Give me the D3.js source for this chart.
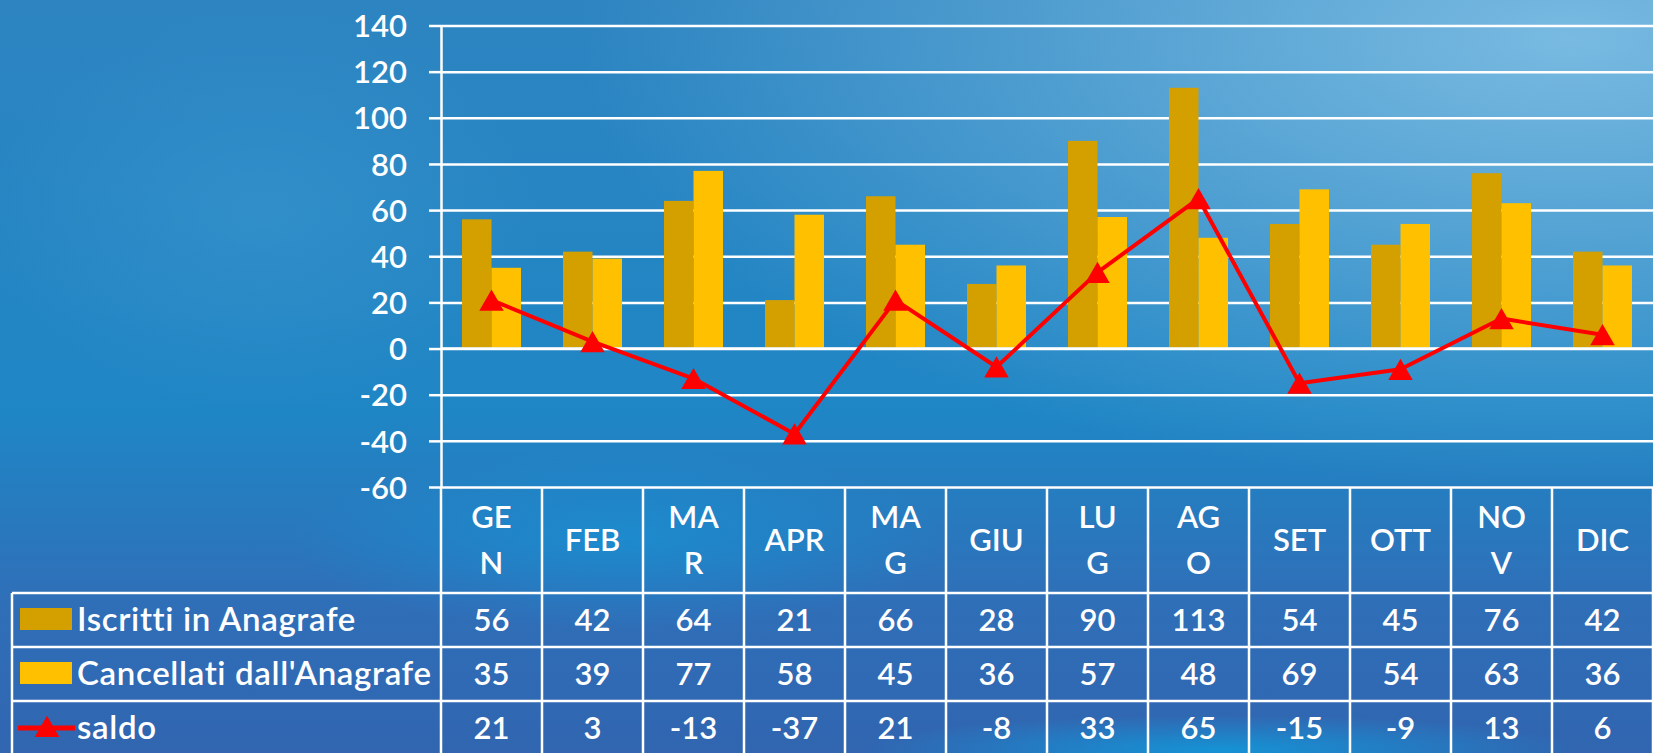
<!DOCTYPE html>
<html>
<head>
<meta charset="utf-8">
<script src="https://cdn.jsdelivr.net/npm/d3@7"></script>
<style>
    html, body { margin: 0; padding: 0; overflow: hidden; background: #2a84c2; }
    text { font-family: Lato, "Open Sans", sans-serif; fill: #fff; font-size: 31px; font-weight: 600; }
</style>
</head>
<body>
<div id="chart"></div>
<script>

// data
var months = ["GEN", "FEB", "MAR", "APR", "MAG", "GIU", "LUG", "AGO", "SET", "OTT", "NOV", "DIC"];
var monthLines = [["GE", "N"], ["FEB"], ["MA", "R"], ["APR"], ["MA", "G"], ["GIU"],
                  ["LU", "G"], ["AG", "O"], ["SET"], ["OTT"], ["NO", "V"], ["DIC"]];
var iscritti = [56, 42, 64, 21, 66, 28, 90, 113, 54, 45, 76, 42];
var cancellati = [35, 39, 77, 58, 45, 36, 57, 48, 69, 54, 63, 36];
var saldo = [21, 3, -13, -37, 21, -8, 33, 65, -15, -9, 13, 6];
var seriesNames = ["Iscritti in Anagrafe", "Cancellati dall'Anagrafe", "saldo"];
var yTicks = [-60, -40, -20, 0, 20, 40, 60, 80, 100, 120, 140];

var barColors = ["#d4a000", "#ffc000"];
var lineColor = "#ff0000";

var W = 1653, H = 753;
var plot = { left: 441, right: 1653, top: 25.5, bottom: 487 };
var tableLeft = 12, rowH = 54, headerBottom = 593;

var svg = d3.select("#chart")
    .append("svg")
    .attr("width", W)
    .attr("height", H);

// background: blue gradients
var defs = svg.append("defs");
var base = defs.append("linearGradient").attr("id", "bgBase")
    .attr("x1", 0).attr("y1", 0).attr("x2", 0).attr("y2", 1);
base.append("stop").attr("offset", "0%").attr("stop-color", "#2d84c0");
base.append("stop").attr("offset", "55%").attr("stop-color", "#1f86c5");
base.append("stop").attr("offset", "80%").attr("stop-color", "#2f6fb8");
base.append("stop").attr("offset", "100%").attr("stop-color", "#3165b0");

var light = defs.append("radialGradient").attr("id", "bgLight")
    .attr("cx", 0.95).attr("cy", 0.05).attr("r", 0.6);
light.append("stop").attr("offset", "0%").attr("stop-color", "#7cbde3").attr("stop-opacity", 0.95);
light.append("stop").attr("offset", "100%").attr("stop-color", "#7cbde3").attr("stop-opacity", 0);

var glow = defs.append("radialGradient").attr("id", "bgGlow")
    .attr("cx", 0.5).attr("cy", 0.5).attr("r", 0.5);
glow.append("stop").attr("offset", "0%").attr("stop-color", "#3a96ce").attr("stop-opacity", 0.55);
glow.append("stop").attr("offset", "100%").attr("stop-color", "#3a96ce").attr("stop-opacity", 0);

var cyan = defs.append("radialGradient").attr("id", "bgCyan")
    .attr("cx", 0.5).attr("cy", 0.5).attr("r", 0.5);
cyan.append("stop").attr("offset", "0%").attr("stop-color", "#0aa6e4").attr("stop-opacity", 0.7);
cyan.append("stop").attr("offset", "100%").attr("stop-color", "#0aa6e4").attr("stop-opacity", 0);

svg.append("rect").attr("width", W).attr("height", H).attr("fill", "url(#bgBase)");
svg.append("ellipse").attr("cx", 260).attr("cy", 210).attr("rx", 280).attr("ry", 200).attr("fill", "url(#bgGlow)");
svg.append("ellipse").attr("cx", 620).attr("cy", 540).attr("rx", 330).attr("ry", 90).attr("fill", "url(#bgCyan)").attr("opacity", 0.6);
svg.append("ellipse").attr("cx", 1220).attr("cy", 750).attr("rx", 360).attr("ry", 35).attr("fill", "url(#bgCyan)");
svg.append("rect").attr("width", W).attr("height", H).attr("fill", "url(#bgLight)");

// scales
var x = d3.scaleBand().domain(months).range([plot.left, plot.right]);
var xSub = d3.scaleBand().domain([0, 1]).range([21, 80]);
var y = d3.scaleLinear().domain([-60, 140]).range([plot.bottom, plot.top]);

// gridlines
svg.append("g")
    .attr("transform", "translate(" + plot.left + ",0)")
    .call(d3.axisLeft(y).tickValues(yTicks).tickSize(-(plot.right - plot.left)).tickFormat(""))
    .call(g => g.select(".domain").remove())
    .selectAll("line").attr("stroke", "#fff").attr("stroke-width", 2.5);

// bars
var barData = months.map(function (m, i) { return { m: m, v: [iscritti[i], cancellati[i]] }; });
svg.append("g")
    .selectAll("g")
    .data(barData)
    .enter()
    .append("g")
    .attr("transform", function (d) { return "translate(" + x(d.m) + ",0)"; })
    .selectAll("rect")
    .data(function (d) { return d.v; })
    .enter()
    .append("rect")
    .attr("x", function (d, j) { return xSub(j); })
    .attr("width", xSub.bandwidth())
    .attr("y", function (d) { return y(Math.max(0, d)); })
    .attr("height", function (d) { return Math.abs(y(d) - y(0)) - 1; })
    .attr("fill", function (d, j) { return barColors[j]; });

// y axis (ticks + labels), plain hyphen for negatives
var yAxis = svg.append("g")
    .attr("transform", "translate(" + plot.left + ",0)")
    .call(d3.axisLeft(y).tickValues(yTicks).tickSize(12).tickSizeOuter(0).tickPadding(22)
        .tickFormat(function (d) { return String(d); }));
yAxis.select(".domain").attr("stroke", "#fff").attr("stroke-width", 2.5);
yAxis.selectAll("line").attr("stroke", "#fff").attr("stroke-width", 2.5);
yAxis.selectAll("text")
    .attr("fill", "#fff")
    .attr("dy", "0.36em")
    .style("font-size", "31px")
    .style("font-family", "Lato, 'Open Sans', sans-serif");

// zero line over the bar bottoms
svg.append("line")
    .attr("x1", plot.left).attr("x2", plot.right)
    .attr("y1", y(0)).attr("y2", y(0))
    .attr("stroke", "#fff").attr("stroke-width", 2.5);

// saldo line
var cx = function (i) { return x(months[i]) + x.bandwidth() / 2; };
var line = d3.line()
    .x(function (d, i) { return cx(i); })
    .y(function (d) { return y(d); });

svg.append("path")
    .datum(saldo)
    .attr("d", line)
    .attr("fill", "none")
    .attr("stroke", lineColor)
    .attr("stroke-width", 4)
    .attr("stroke-linejoin", "round");

var tri = d3.symbol().type(d3.symbolTriangle).size(260);
svg.append("g")
    .selectAll("path")
    .data(saldo)
    .enter()
    .append("path")
    .attr("d", tri)
    .attr("fill", lineColor)
    .attr("transform", function (d, i) { return "translate(" + cx(i) + "," + (y(d) + 3.5) + ")"; });

// data table
var table = svg.append("g");
var rowTops = seriesNames.map(function (s, k) { return headerBottom + k * rowH; });
var tableBottom = headerBottom + seriesNames.length * rowH;

// horizontal lines
table.selectAll("line.h")
    .data(rowTops.concat([tableBottom]))
    .enter()
    .append("line")
    .attr("x1", tableLeft).attr("x2", plot.right)
    .attr("y1", function (d) { return d; }).attr("y2", function (d) { return d; })
    .attr("stroke", "#fff").attr("stroke-width", 2.5);

// vertical lines between months
var colEdges = months.map(function (m) { return x(m); }).concat([plot.right]);
table.selectAll("line.v")
    .data(colEdges)
    .enter()
    .append("line")
    .attr("x1", function (d) { return d; }).attr("x2", function (d) { return d; })
    .attr("y1", plot.bottom).attr("y2", tableBottom)
    .attr("stroke", "#fff").attr("stroke-width", 2.5);

table.append("line")
    .attr("x1", tableLeft).attr("x2", tableLeft)
    .attr("y1", headerBottom).attr("y2", tableBottom)
    .attr("stroke", "#fff").attr("stroke-width", 2.5);

// month headers
var headerMid = (plot.bottom + headerBottom) / 2;
table.selectAll("text.month")
    .data(monthLines)
    .enter()
    .append("text")
    .attr("class", "month")
    .attr("text-anchor", "middle")
    .attr("x", function (d, i) { return cx(i); })
    .each(function (d) {
        var t = d3.select(this);
        d.forEach(function (s, k) {
            t.append("tspan")
                .attr("x", t.attr("x"))
                .attr("y", headerMid + 11 + (k - (d.length - 1) / 2) * 46)
                .text(s);
        });
    });

// values
var tableValues = [iscritti, cancellati, saldo];
tableValues.forEach(function (vals, k) {
    table.selectAll("text.val" + k)
        .data(vals)
        .enter()
        .append("text")
        .attr("text-anchor", "middle")
        .attr("x", function (d, i) { return cx(i); })
        .attr("y", rowTops[k] + rowH / 2 + 11)
        .text(function (d) { return d; });
});

// legend keys in the first column
table.selectAll("text.legend")
    .data(seriesNames)
    .enter()
    .append("text")
    .attr("x", 77)
    .attr("y", function (d, k) { return rowTops[k] + rowH / 2 + 11; })
    .style("font-size", "33px")
    .style("letter-spacing", "0.65px")
    .text(function (d) { return d; });

table.selectAll("rect.key")
    .data(barColors)
    .enter()
    .append("rect")
    .attr("x", 20).attr("width", 52)
    .attr("y", function (d, k) { return rowTops[k] + 15; })
    .attr("height", 22)
    .attr("fill", function (d) { return d; });

var keyY = rowTops[2] + rowH / 2;
table.append("line")
    .attr("x1", 18).attr("x2", 75)
    .attr("y1", keyY).attr("y2", keyY)
    .attr("stroke", lineColor).attr("stroke-width", 5);
table.append("path")
    .attr("d", tri)
    .attr("fill", lineColor)
    .attr("transform", "translate(47," + (keyY + 2) + ")");

</script>
</body>
</html>
